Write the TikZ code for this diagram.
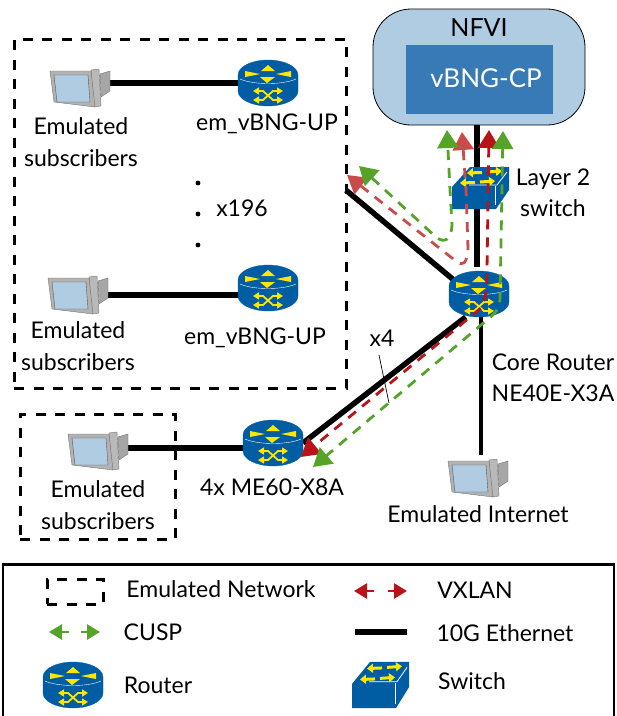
\documentclass[tikz,border=0pt]{standalone}
\usepackage{fontspec}
\setmainfont{Lato}
\usetikzlibrary{arrows.meta}

\definecolor{hubblue}{HTML}{005DA4}
\definecolor{nfvisky}{HTML}{B0CCE2}
\definecolor{cpblue}{HTML}{377AB5}
\definecolor{hubyellow}{HTML}{FFE600}
\definecolor{vxdark}{HTML}{B81418}
\definecolor{vxlight}{HTML}{C94B4B}
\definecolor{cuspgreen}{HTML}{55A328}

\tikzset{
    lbl/.style={font=\fontsize{23}{31.5}\selectfont, align=center, inner sep=0pt},
    lblbig/.style={font=\fontsize{26}{31.5}\selectfont, align=center, inner sep=0pt},
    hub/.style={minimum width=60pt, minimum height=46pt, inner sep=0pt, outer sep=0pt},
    emubox/.style={draw, line width=3pt, dash pattern=on 10pt off 9.5pt, inner sep=0pt, outer sep=0pt},
    eth/.style={line width=5.5pt},
    flow/.style={line width=2.8pt, dash pattern=on 10pt off 8pt, {Triangle[width=21pt,length=18pt]}-{Triangle[width=21pt,length=18pt]}},
    legtip/.style={line width=2.8pt, -{Triangle[width=15pt,length=13pt]}},
    router/.pic={
        \filldraw[hubblue, line width=0.3pt] (-30,-8) arc[start angle=180, end angle=0, x radius=30pt, y radius=15pt]
            -- (30,8) arc[start angle=0, end angle=-180, x radius=30pt, y radius=15pt] -- cycle;
        \draw[white, line width=0.4pt] (-28,-4) .. controls (-15,2) and (15,2) .. (28,-4);
        \fill[hubyellow] (0,-18) -- (-7,-12) -- (7,-12) -- cycle;
        \fill[hubyellow] (-8,-6) -- (7,-6) -- (-1,0) -- cycle;
        \fill[hubyellow] (-23,-12) -- (-23,-6) -- (-8,-9) -- cycle;
        \fill[hubyellow] (23,-12) -- (23,-6) -- (8,-9) -- cycle;
        \draw[hubyellow, line width=1.8pt, {Triangle[width=7pt,length=6pt]}-{Triangle[width=7pt,length=6pt]}] (-15,8) -- (-5,8) -- (5,17) -- (15,17);
        \draw[hubyellow, line width=1.8pt, {Triangle[width=7pt,length=6pt]}-{Triangle[width=7pt,length=6pt]}] (-15,17) -- (-5,17) -- (5,8) -- (15,8);
    },
    l2switch/.pic={
        \fill[hubblue] (-28,-1) -- (-10,-21) -- (29,-21) -- (29,2) -- (16,21) -- (-28,21) -- cycle;
        \draw[white, line width=0.8pt] (-11,-3) -- (17,-3) -- (27,-16);
        \draw[white, line width=0.8pt] (15,-2) -- (15,17);
        \foreach \ya/\xa in {-16/2, -6/-5} {
            \draw[hubyellow, line width=3pt, -{Triangle[width=9pt,length=6pt]}] (\xa,\ya+0.5) -- (\xa-15,\ya+1);
            \draw[hubyellow, line width=3pt, -{Triangle[width=9pt,length=6pt]}] (\xa+5,\ya) -- (\xa+20,\ya-1);
        }
    },
    terminal/.pic={
        \filldraw[fill=gray!70, draw=gray!90!black, line width=0.4pt] (20,-14) -- (30,-17) -- (30,3) -- (21,9) -- cycle;
        \filldraw[fill=gray!55, draw=gray!90!black, line width=0.4pt] (11,-18) -- (19,-19) -- (21,18) -- (14,19) -- cycle;
        \filldraw[fill=gray!60, draw=gray!90!black, line width=0.4pt] (-30,-17) -- (11,-17) -- (15,19) -- (-26,14) -- cycle;
        \filldraw[fill=nfvisky, draw=gray!70!black, line width=0.4pt] (-26,-13) -- (8,-13) -- (10,14) -- (-23,14) -- cycle;
    }
}

\begin{document}
\begin{tikzpicture}[x=1pt, y=-1pt, >=latex]
        \useasboundingbox (0,0) rectangle (617,716);

        \node[draw, line width=2.4pt, minimum width=611pt, minimum height=153pt, inner sep=0pt] (legendbox) at (308.5,641) {};
        \node[emubox, minimum width=332pt, minimum height=349pt] (emuA) at (180,213.5) {};
        \node[emubox, minimum width=155pt, minimum height=125pt] (emuB) at (97.5,476.5) {};
        \node[emubox, minimum width=56pt, minimum height=25pt] (legdash) at (75,591.5) {};

        \node[draw, line width=0.8pt, fill=nfvisky, rounded corners=38pt, minimum width=212pt, minimum height=116pt, inner sep=0pt, outer sep=0pt] (nfvi) at (479,67) {};
        \node[fill=cpblue, minimum width=147pt, minimum height=69pt, inner sep=0pt] (vcp) at (479.5,79.5) {};

        \node[hub] (upA) at (268,83) {};
        \node[hub] (upB) at (268,288) {};
        \node[hub] (me60) at (273,443) {};
        \node[hub] (core) at (479,294) {};
        \node[hub, minimum width=57pt, minimum height=42pt] (sw) at (480,188) {};
        \node[hub] (legrouter) at (73,685) {};
        \node[hub, minimum width=57pt, minimum height=46pt] (legswitch) at (380,685) {};

        \node[hub] (subA) at (80,88) {};
        \node[hub] (subB) at (78,295) {};
        \node[hub] (subC) at (98,451) {};
        \node[hub] (inet) at (478,478) {};

        \coordinate (legethL) at (355,632);
        \coordinate (legethR) at (407,632);

        \draw[eth] (subA.east |- upA) -- (upA);
        \draw[eth] (subB.east |- 0,295) -- (upB |- 0,295);
        \draw[eth] (subC.east |- 0,448) -- (me60 |- 0,448);
        \draw[eth] (core.240) -- (me60.east);
        \draw[eth] ([shift={(8,6)}]core.150) -- (emuA.8);
        \draw[line width=4pt] ([xshift=2pt]core.south) -- ([xshift=2pt]core.south |- inet.north);
        \draw[eth] ([xshift=-2pt]nfvi.south) -- ([xshift=-2pt]nfvi.south |- sw.north);
        \draw[eth] ([xshift=-3pt]sw.south) -- ([xshift=-3pt,yshift=4pt]sw.south |- core.north);
        \draw[eth] (legethL) -- (legethR);

        \foreach \hubname in {upA,upB,me60,core,legrouter}
            \pic at (\hubname) {router};
        \pic at (sw) {l2switch};
        \pic[yscale=1.1] at (legswitch) {l2switch};
        \foreach \subname in {subA,subB,subC,inet}
            \pic at (\subname) {terminal};

        \draw[flow, vxlight] (347,175) -- (457,262) .. controls (463,266) and (467,264) .. (468,248) -- (466,190) -- (462,132);
        \draw[flow, cuspgreen] (359,166) -- (437,238) .. controls (445,243) and (451,240) .. (452,225) -- (450,190) -- (447,130);
        \draw[flow, vxdark] (489,130) -- (487,270) .. controls (487,285) and (487,297) .. (481,308) -- (301,457);
        \draw[flow, cuspgreen] (503,131) -- (500,300) .. controls (499,310) and (495,314) .. (481,325) -- (313,467);

        \draw[line width=0.7pt] (379,355) -- (389,403);

        \foreach \doty in {183,214,245}
            \fill (198,\doty) circle (2.4pt);

        \node[lblbig, font=\fontsize{25}{31.5}\selectfont] (lblnfvi) at (479,28) {NFVI};
        \node[lblbig, text=white] (lblcp) at (486,78) {vBNG-CP};
        \node[lbl] (lblsubA) at (81,142) {Emulated\\subscribers};
        \node[lbl] (lblupA) at (267,124) {em\_vBNG-UP};
        \node[lbl] (lblmany) at (242,208) {x196};
        \node[lbl] (lblsubB) at (78,346) {Emulated\\subscribers};
        \node[lbl] (lblupB) at (255,338) {em\_vBNG-UP};
        \node[lbl] (lblsubC) at (98,505) {Emulated\\subscribers};
        \node[lbl] (lblme60) at (272,487) {4x ME60-X8A};
        \node[lbl] (lblfour) at (382,338) {x4};
        \node[lbl] (lblswitch) at (553,193) {Layer 2\\switch};
        \node[lbl] (lblcore) at (553,378) {Core Router\\NE40E-X3A};
        \node[lbl] (lblinet) at (478,514) {Emulated Internet};

        \node[lbl] (legemu) at (221,589) {Emulated Network};
        \node[lbl] (legvx) at (475,590) {VXLAN};
        \node[lbl] (legcusp) at (153,632) {CUSP};
        \node[lbl] (leg10g) at (505,633) {10G Ethernet};
        \node[lbl] (legrt) at (158,685) {Router};
        \node[lbl] (legsw) at (472,681) {Switch};

        \draw[legtip, vxdark] (374,591) -- (354,591);
        \draw[legtip, vxdark] (388,591) -- (407,591);
        \draw[legtip, cuspgreen] (69,632) -- (49,632);
        \draw[legtip, cuspgreen] (81,632) -- (100,632);
    \end{tikzpicture}
\end{document}
